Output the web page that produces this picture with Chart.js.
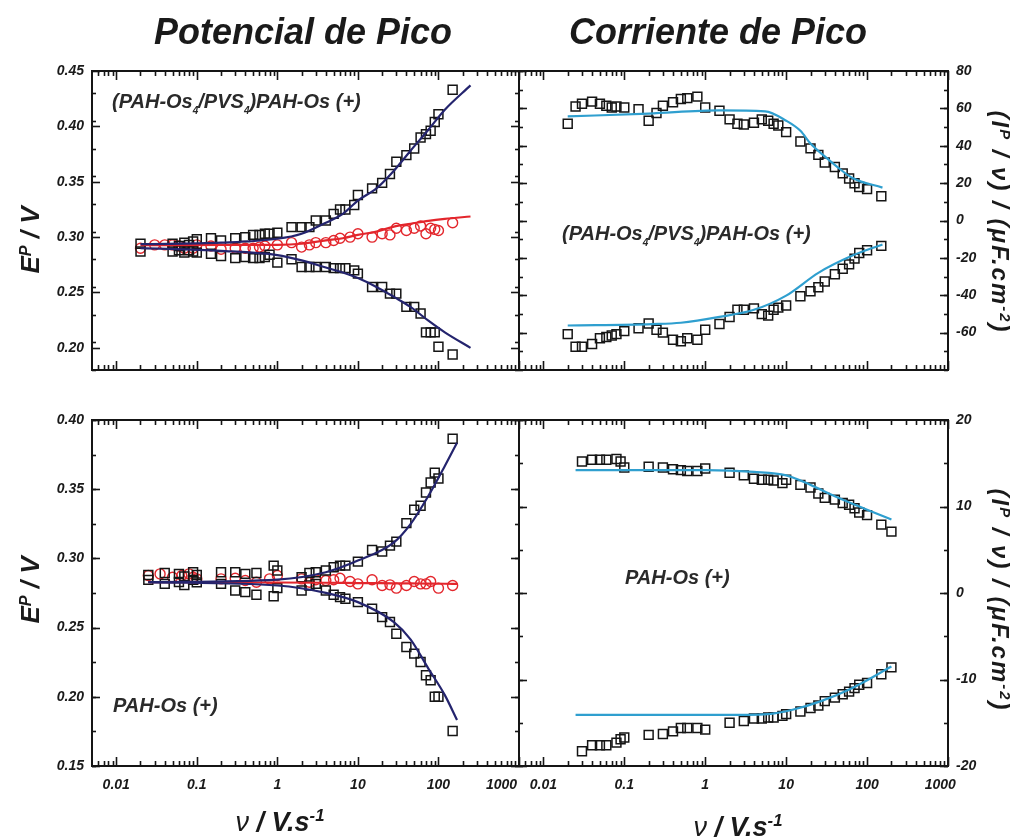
<!DOCTYPE html>
<html>
<head>
<meta charset="utf-8">
<script src="https://cdn.jsdelivr.net/npm/chart.js@4.4.0/dist/chart.umd.min.js"></script>
<style>
  html, body { margin: 0; padding: 0; background: #fff; }
  #fig { position: relative; width: 1022px; height: 839px; overflow: hidden; background: #fff;
         font-family: "Liberation Sans", Arial, Helvetica, sans-serif; color: #1a1a1a; }
  #fig canvas { position: absolute; left: 0; top: 0; }
  .lbl { position: absolute; white-space: nowrap; font-style: italic; font-weight: bold;
         transform: translate(-50%, -50%); line-height: 1; }
  .ttl { font-size: 36px; color: #1a1a1a; }
  .ytl { font-size: 26px; }
  .ytl.left { transform: translate(-50%, -50%) rotate(-90deg); }
  .ytl.right { transform: translate(-50%, -50%) rotate(90deg); font-size: 24px; letter-spacing: 2px; }
  .xtl { font-size: 27px; }
  .xtl .nu { font-weight: normal; }
  .note { position: absolute; white-space: nowrap; font-style: italic; font-weight: bold;
          font-size: 20px; color: #2a2a2a; transform: translateY(-50%); line-height: 1; }
  .note sub { font-size: 10px; vertical-align: -6px; }
  sup { font-size: 0.62em; vertical-align: 0.55em; }
</style>
</head>
<body>
<div id="fig">
  <canvas id="cTL" width="1022" height="839"></canvas>
  <canvas id="cTR" width="1022" height="839"></canvas>
  <canvas id="cBL" width="1022" height="839"></canvas>
  <canvas id="cBR" width="1022" height="839"></canvas>

  <div class="lbl ttl" style="left:303px; top:32px;">Potencial de Pico</div>
  <div class="lbl ttl" style="left:718px; top:32px;">Corriente de Pico</div>

  <div class="lbl ytl left" style="left:30px; top:240px;">E<sup>P</sup> / V</div>
  <div class="lbl ytl left" style="left:30px; top:590px;">E<sup>P</sup> / V</div>
  <div class="lbl ytl right" style="left:1000px; top:222px;">(I<sup>P</sup> / ν) / (μF.cm<sup>-2</sup>)</div>
  <div class="lbl ytl right" style="left:1000px; top:600px;">(I<sup>P</sup> / ν) / (μF.cm<sup>-2</sup>)</div>

  <div class="lbl xtl" style="left:280px; top:822px;"><span class="nu">ν</span> / V.s<sup>-1</sup></div>
  <div class="lbl xtl" style="left:738px; top:827px;"><span class="nu">ν</span> / V.s<sup>-1</sup></div>

  <div class="note" style="left:112px; top:103px;">(PAH-Os<sub>4</sub>/PVS<sub>4</sub>)PAH-Os (+)</div>
  <div class="note" style="left:562px; top:235px;">(PAH-Os<sub>4</sub>/PVS<sub>4</sub>)PAH-Os (+)</div>
  <div class="note" style="left:113px; top:705px;">PAH-Os (+)</div>
  <div class="note" style="left:625px; top:577px;">PAH-Os (+)</div>
</div>

<script>
// ---------- axis ticks ----------
const xTickValues = [0.01, 0.1, 1, 10, 100, 1000];
const xTickLabels = ['0.01', '0.1', '1', '10', '100', '1000'];
const potTicksTop = [0.20, 0.25, 0.30, 0.35, 0.40, 0.45];
const potTicksBottom = [0.15, 0.20, 0.25, 0.30, 0.35, 0.40];
const curTicksTop = [-60, -40, -20, 0, 20, 40, 60, 80];
const curTicksBottom = [-20, -10, 0, 10, 20];

// ---------- (PAH-Os4/PVS4)PAH-Os : peak potentials ----------
const vPotMulti = [0.02, 0.05, 0.06, 0.07, 0.08, 0.09, 0.1, 0.15, 0.2, 0.3, 0.4, 0.5, 0.6, 0.7, 0.8, 1,
                   1.5, 2, 2.5, 3, 4, 5, 6, 7, 9, 10, 15, 20, 25, 30, 40, 50, 60, 70, 80, 90, 100, 150];
const epaMulti = [0.294, 0.294, 0.292, 0.295, 0.293, 0.296, 0.298, 0.299, 0.297, 0.299, 0.300, 0.302, 0.302, 0.303, 0.303, 0.304,
                  0.309, 0.309, 0.309, 0.315, 0.315, 0.321, 0.325, 0.325, 0.329, 0.338, 0.344, 0.349, 0.357, 0.368, 0.374, 0.380,
                  0.390, 0.393, 0.396, 0.404, 0.411, 0.433];
const epcMulti = [0.287, 0.287, 0.288, 0.286, 0.288, 0.287, 0.286, 0.285, 0.283, 0.281, 0.282, 0.281, 0.281, 0.282, 0.284, 0.277,
                  0.280, 0.273, 0.273, 0.273, 0.273, 0.272, 0.272, 0.272, 0.270, 0.267, 0.255, 0.255, 0.249, 0.249, 0.237, 0.237,
                  0.231, 0.214, 0.214, 0.214, 0.201, 0.194];
const vMidMulti = [0.02, 0.03, 0.04, 0.05, 0.06, 0.07, 0.09, 0.1, 0.15, 0.2, 0.3, 0.4, 0.5, 0.6, 0.7, 1, 1.5, 2, 2.5,
                   3, 4, 5, 6, 8, 10, 15, 20, 25, 30, 40, 50, 60, 70, 80, 90, 100, 150];
const eMidMulti = [0.290, 0.293, 0.293, 0.293, 0.292, 0.290, 0.290, 0.293, 0.292, 0.289, 0.290, 0.290, 0.290, 0.291, 0.292,
                   0.293, 0.295, 0.291, 0.293, 0.295, 0.295, 0.297, 0.299, 0.300, 0.303, 0.300, 0.303, 0.302, 0.308, 0.306,
                   0.308, 0.310, 0.303, 0.308, 0.307, 0.306, 0.313];
const vFitPotMulti = [0.02, 0.2, 1, 2, 4, 6.5, 10, 17, 28, 45, 75, 120, 250];
const fitEpaMulti = [0.2936, 0.295, 0.2985, 0.303, 0.313, 0.321, 0.333, 0.344, 0.360, 0.378, 0.397, 0.415, 0.437];
const fitEpcMulti = [0.290, 0.2876, 0.2838, 0.279, 0.2725, 0.268, 0.263, 0.255, 0.246, 0.237, 0.2245, 0.214, 0.200];
const fitMidMulti = [0.2928, 0.2929, 0.293, 0.294, 0.297, 0.299, 0.302, 0.305, 0.3095, 0.312, 0.3147, 0.3165, 0.3186];

// ---------- (PAH-Os4/PVS4)PAH-Os : normalised peak currents ----------
const vCurMulti = [0.02, 0.025, 0.03, 0.04, 0.05, 0.06, 0.07, 0.08, 0.1, 0.15, 0.2, 0.25, 0.3, 0.4, 0.5, 0.6, 0.8, 1,
                   1.5, 2, 2.5, 3, 4, 5, 6, 7, 8, 10, 15, 20, 25, 30, 40, 50, 60, 70, 80, 100, 150];
const ipaMulti = [51.8, 61, 62.5, 63.6, 62.5, 61.4, 60.5, 61, 60.5, 59.5, 53.4, 57.5, 61.4, 63.3, 65, 65.5, 66.3, 60.5,
                  58.7, 54.1, 51.8, 51.4, 52.3, 54.1, 53.4, 51.8, 50.8, 47.3, 42.3, 38.6, 35.1, 31, 28.6, 25.2, 22.5,
                  19.9, 17.9, 16.8, 13];
const ipcMulti = [-60.8, -67.6, -67.6, -66.1, -63, -62.3, -61.5, -60.8, -59.2, -57.7, -55.1, -58.5, -60, -63.8, -64.6,
                  -63, -63.8, -58.5, -55.4, -51.6, -47.8, -47.8, -47, -50.1, -50.9, -47.8, -46.6, -45.5, -40.5, -37.9,
                  -35.7, -32.6, -28.8, -25.8, -23.5, -20.4, -17.4, -15.9, -13.6];
const vFitCurMultiA = [0.02, 0.2, 1.5, 5.5, 10, 15, 20, 30, 42, 65, 155];
const fitIpaMulti = [55.7, 57.2, 58.9, 58.4, 53.4, 48, 41.2, 34.3, 29, 22.9, 17.6];
const vFitCurMultiC = [0.02, 0.22, 0.5, 1.5, 4, 10, 25, 65, 155];
const fitIpcMulti = [-56.2, -55.4, -54.7, -51.6, -47.8, -40.2, -28, -18.9, -12.8];

// ---------- PAH-Os : peak potentials ----------
const vPotMono = [0.025, 0.04, 0.06, 0.07, 0.09, 0.1, 0.2, 0.3, 0.4, 0.55, 0.9, 1, 2, 2.5, 3, 4, 5, 6, 7, 10,
                  15, 20, 25, 30, 40, 50, 60, 70, 80, 90, 100, 150];
const epaMono = [0.288, 0.2895, 0.2888, 0.287, 0.290, 0.288, 0.290, 0.290, 0.2888, 0.2895, 0.2948, 0.2912, 0.2864,
                 0.2895, 0.290, 0.2912, 0.2936, 0.2948, 0.2948, 0.2977, 0.3061, 0.305, 0.3092, 0.3121, 0.3255, 0.3351,
                 0.338, 0.3476, 0.3548, 0.362, 0.3577, 0.3865];
const epcMono = [0.2845, 0.2816, 0.283, 0.2808, 0.2845, 0.2827, 0.2816, 0.2768, 0.2756, 0.2737, 0.2727, 0.2785,
                 0.2768, 0.2804, 0.2816, 0.2768, 0.2737, 0.272, 0.2708, 0.2684, 0.2636, 0.2576, 0.254, 0.2456, 0.236,
                 0.2312, 0.2252, 0.2156, 0.212, 0.200, 0.200, 0.1753];
const vMidMono = [0.025, 0.035, 0.05, 0.065, 0.08, 0.09, 0.1, 0.2, 0.3, 0.4, 0.55, 0.8, 1, 2, 2.5, 3, 4, 5, 6, 8, 10,
                  15, 20, 25, 30, 40, 50, 60, 70, 80, 100, 150];
const eMidMono = [0.2876, 0.2888, 0.2864, 0.2876, 0.2888, 0.2864, 0.2852, 0.2852, 0.2857, 0.284, 0.2828, 0.2852,
                  0.2876, 0.2852, 0.2828, 0.2846, 0.284, 0.2846, 0.2857, 0.2833, 0.2816, 0.2846, 0.2804, 0.2809,
                  0.2785, 0.2804, 0.2833, 0.2816, 0.2816, 0.2833, 0.2785, 0.2804];
const vFitPotMono = [0.025, 1, 4, 10, 28, 45, 75, 120, 170];
const fitEpaMono = [0.2828, 0.2847, 0.290, 0.2984, 0.3116, 0.3248, 0.3452, 0.3668, 0.3836];
const fitEpcMono = [0.2828, 0.2804, 0.2751, 0.2684, 0.254, 0.2415, 0.2204, 0.2012, 0.1832];
const fitMidMono = [0.2828, 0.2826, 0.2824, 0.2822, 0.282, 0.2819, 0.2818, 0.2817, 0.2816];

// ---------- PAH-Os : normalised peak currents ----------
const vCurMono = [0.03, 0.04, 0.05, 0.06, 0.08, 0.09, 0.1, 0.2, 0.3, 0.4, 0.5, 0.6, 0.8, 1, 2, 3, 4, 5, 6, 7, 9, 10,
                  15, 20, 25, 30, 40, 50, 60, 70, 80, 100, 150, 200];
const ipaMono = [15.2, 15.4, 15.4, 15.4, 15.5, 15.2, 14.5, 14.6, 14.5, 14.3, 14.2, 14.1, 14.1, 14.4, 13.9, 13.6,
                 13.2, 13.1, 13.1, 13.0, 12.7, 13.1, 12.5, 12.2, 11.5, 11.0, 10.8, 10.4, 10.2, 9.8, 9.3, 9.0, 7.9, 7.1];
const ipcMono = [-18.3, -17.6, -17.6, -17.6, -17.3, -16.9, -16.7, -16.4, -16.3, -16.0, -15.6, -15.6, -15.6, -15.8,
                 -15.0, -14.8, -14.5, -14.5, -14.4, -14.4, -14.2, -14.0, -13.7, -13.3, -13.0, -12.5, -12.1, -11.7,
                 -11.4, -11.0, -10.6, -10.4, -9.4, -8.6];
const vFitCurMonoA = [0.025, 1, 4, 10, 20, 42, 90, 200];
const fitIpaMono = [14.2, 14.2, 14.0, 13.6, 12.5, 11.1, 9.8, 8.5];
const vFitCurMonoC = [0.025, 1.5, 6, 12, 27, 65, 200];
const fitIpcMono = [-14.1, -14.1, -14.0, -13.5, -12.5, -11.0, -8.5];

// ---------- styling ----------
const NAVY = '#24246e', RED = '#e3262c', CYAN = '#2f9fcf', INK = '#151515';
const tickFont = { family: '"Liberation Sans", Arial, sans-serif', size: 14, weight: 'bold', style: 'italic' };
const X_MIN = 0.005, X_MAX = 1000;
const Y_AXIS_W = 70, X_AXIS_H = 50, W = 1022, H = 839;

const pairs = (xs, ys) => xs.map((x, i) => ({ x, y: ys[i] }));
const squares = (label, xs, ys) => ({
  label, data: pairs(xs, ys), showLine: false, pointStyle: 'rect', pointRadius: 6.3,
  borderColor: INK, borderWidth: 1.5, backgroundColor: 'rgba(0,0,0,0)', order: 2
});
const circles = (label, xs, ys) => ({
  label, data: pairs(xs, ys), showLine: false, pointStyle: 'circle', pointRadius: 5,
  borderColor: RED, borderWidth: 1.4, backgroundColor: 'rgba(0,0,0,0)', order: 2
});
const curve = (label, xs, ys, color) => ({
  label, data: pairs(xs, ys), showLine: true, pointRadius: 0, borderColor: color, borderWidth: 2.2,
  cubicInterpolationMode: 'monotone', fill: false, order: 1
});

// frame with inward ticks on all four sides
const frameTicks = {
  id: 'frameTicks',
  afterDatasetsDraw(chart, args, opts) {
    const { ctx, chartArea: a, scales: { x, y } } = chart;
    ctx.save();
    ctx.strokeStyle = INK;
    ctx.lineWidth = 1.6;
    const seg = (x1, y1, x2, y2) => { ctx.beginPath(); ctx.moveTo(x1, y1); ctx.lineTo(x2, y2); ctx.stroke(); };
    const xt = (v, len) => {
      const p = Math.round(x.getPixelForValue(v)) + 0.5;
      seg(p, a.bottom, p, a.bottom - len);
      seg(p, a.top, p, a.top + len);
    };
    const yt = (v, len) => {
      const p = Math.round(y.getPixelForValue(v)) + 0.5;
      seg(a.left, p, a.left + len, p);
      seg(a.right, p, a.right - len, p);
    };
    for (let d = 0.001; d < X_MAX; d *= 10) {
      for (let k = 2; k <= 9; k++) {
        const v = k * d;
        if (v > X_MIN && v < X_MAX) xt(v, 5);
      }
    }
    xTickValues.forEach(v => xt(v, 9));
    const step = opts.minorStep;
    for (let v = y.min; v <= y.max + 1e-9; v += step) yt(v, 4);
    y.ticks.forEach(t => yt(t.value, 8));
    ctx.lineWidth = 2;
    ctx.strokeRect(a.left, a.top, a.width, a.height);
    ctx.restore();
  }
};

function panel(id, p) {
  const yRight = p.yPos === 'right';
  const pad = {
    top: p.area.top,
    left: yRight ? p.area.left : p.area.left - Y_AXIS_W,
    right: yRight ? W - p.area.right - Y_AXIS_W : W - p.area.right,
    bottom: p.showX ? H - p.area.bottom - X_AXIS_H : H - p.area.bottom
  };
  // trailing spaces pull the last decade label inside the frame corner
  const lastPad = ' '.repeat(p.lastLabelShift || 0);
  return new Chart(document.getElementById(id), {
    type: 'scatter',
    data: { datasets: p.datasets },
    options: {
      responsive: false, animation: false, events: [],
      layout: { padding: pad },
      plugins: { legend: { display: false }, tooltip: { enabled: false }, frameTicks: { minorStep: p.minorStep } },
      scales: {
        x: {
          type: 'logarithmic', min: X_MIN, max: X_MAX, display: p.showX,
          grid: { display: false, drawTicks: false }, border: { display: false },
          afterBuildTicks: s => { s.ticks = xTickValues.map(v => ({ value: v })); },
          afterFit: s => { s.height = X_AXIS_H; },
          ticks: {
            font: tickFont, color: '#1a1a1a', padding: 11, maxRotation: 0, autoSkip: false,
            callback: v => {
              const i = xTickValues.indexOf(v);
              if (i < 0) return '';
              return i === xTickValues.length - 1 ? xTickLabels[i] + lastPad : xTickLabels[i];
            }
          }
        },
        y: {
          type: 'linear', position: p.yPos, min: p.yMin, max: p.yMax,
          grid: { display: false, drawTicks: false }, border: { display: false },
          afterBuildTicks: s => { s.ticks = p.yTicks.map(v => ({ value: v })); },
          afterFit: s => { s.width = Y_AXIS_W; },
          ticks: { font: tickFont, color: '#1a1a1a', padding: 8, callback: p.fmt }
        }
      }
    },
    plugins: [frameTicks]
  });
}

const fmtPot = v => v.toFixed(2);
const fmtCur = v => String(v);

panel('cTL', {
  area: { left: 92, top: 71, right: 519, bottom: 420 }, yPos: 'left', showX: false,
  yMin: 0.18, yMax: 0.45, yTicks: potTicksTop, minorStep: 0.025, fmt: fmtPot,
  datasets: [
    curve('fit Epa', vFitPotMulti, fitEpaMulti, NAVY),
    curve('fit Epc', vFitPotMulti, fitEpcMulti, NAVY),
    curve('fit E1/2', vFitPotMulti, fitMidMulti, RED),
    squares('Epa', vPotMulti, epaMulti),
    squares('Epc', vPotMulti, epcMulti),
    circles('E1/2', vMidMulti, eMidMulti)
  ]
});

panel('cTR', {
  area: { left: 519, top: 71, right: 948, bottom: 420 }, yPos: 'right', showX: false,
  yMin: -80, yMax: 80, yTicks: curTicksTop, minorStep: 10, fmt: fmtCur,
  datasets: [
    curve('fit Ipa', vFitCurMultiA, fitIpaMulti, CYAN),
    curve('fit Ipc', vFitCurMultiC, fitIpcMulti, CYAN),
    squares('Ipa', vCurMulti, ipaMulti),
    squares('Ipc', vCurMulti, ipcMulti)
  ]
});

panel('cBL', {
  area: { left: 92, top: 420, right: 519, bottom: 766 }, yPos: 'left', showX: true, lastLabelShift: 9,
  yMin: 0.15, yMax: 0.40, yTicks: potTicksBottom, minorStep: 0.025, fmt: fmtPot,
  datasets: [
    curve('fit Epa', vFitPotMono, fitEpaMono, NAVY),
    curve('fit Epc', vFitPotMono, fitEpcMono, NAVY),
    curve('fit E1/2', vFitPotMono, fitMidMono, RED),
    squares('Epa', vPotMono, epaMono),
    squares('Epc', vPotMono, epcMono),
    circles('E1/2', vMidMono, eMidMono)
  ]
});

panel('cBR', {
  area: { left: 519, top: 420, right: 948, bottom: 766 }, yPos: 'right', showX: true, lastLabelShift: 4,
  yMin: -20, yMax: 20, yTicks: curTicksBottom, minorStep: 5, fmt: fmtCur,
  datasets: [
    curve('fit Ipa', vFitCurMonoA, fitIpaMono, CYAN),
    curve('fit Ipc', vFitCurMonoC, fitIpcMono, CYAN),
    squares('Ipa', vCurMono, ipaMono),
    squares('Ipc', vCurMono, ipcMono)
  ]
});
</script>
</body>
</html>
